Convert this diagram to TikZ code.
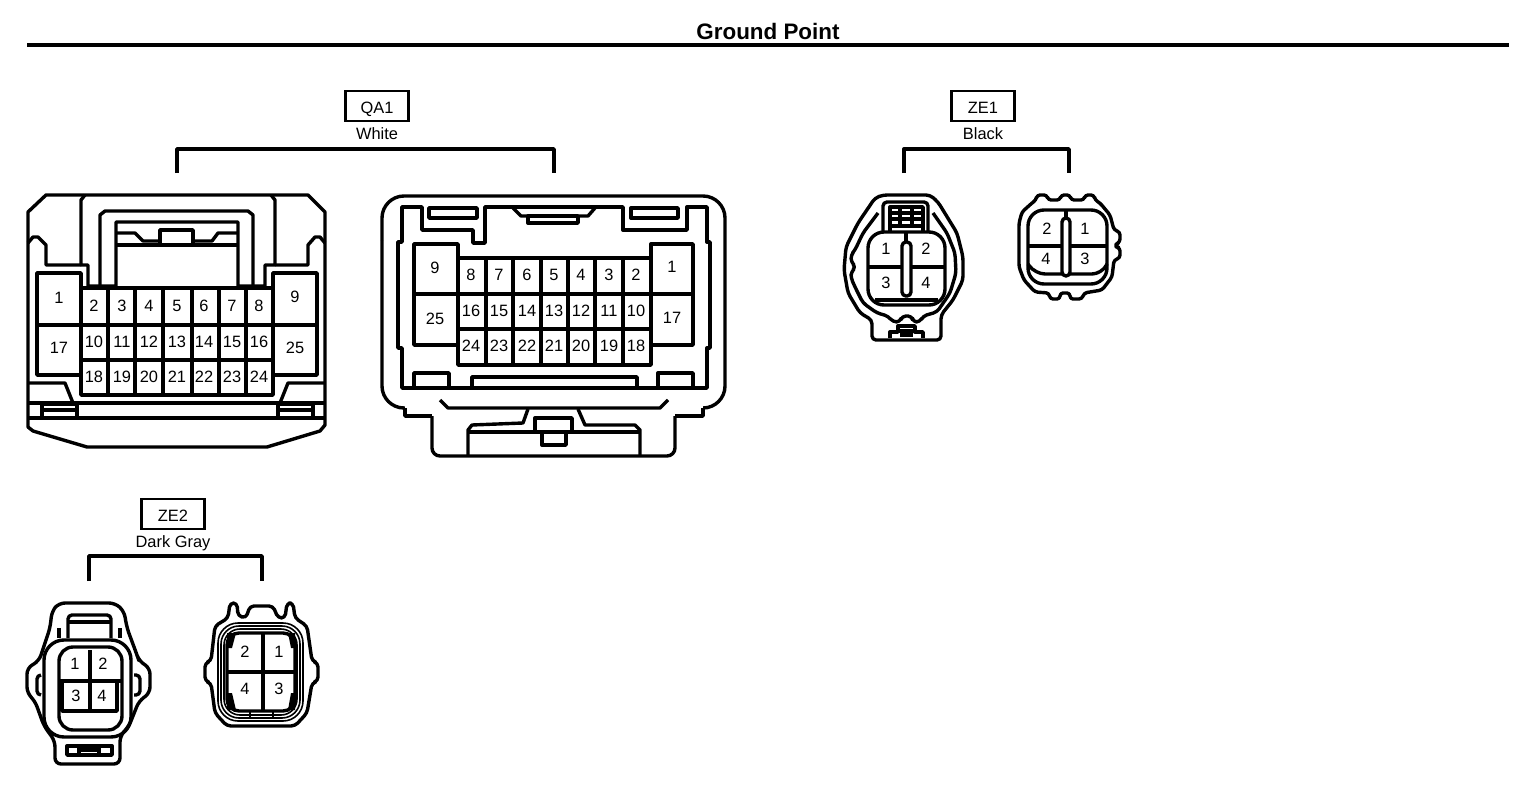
\documentclass[tikz,border=0pt]{standalone}
\usepackage{fontspec}
\setmainfont{Liberation Sans}
\tikzset{
  wire/.style={line width=1.7pt,line join=round},
  thinwire/.style={line width=0.8pt,line join=round},
  pin/.style={inner sep=0pt,font=\fontsize{8.2}{10}\selectfont},
  colour/.style={inner sep=0pt,font=\fontsize{8.2}{10}\selectfont},
  tag/.style={draw,line width=1.3pt,minimum width=31.5pt,minimum height=15pt,inner sep=0pt,text height=7.5pt,text depth=0pt,font=\fontsize{8.2}{10}\selectfont}
}
\begin{document}
\begin{tikzpicture}[x=0.5pt,y=-0.5pt]
\useasboundingbox (0,0) rectangle (1536,792);
% title
\node[inner sep=0pt,font=\bfseries\fontsize{11.2}{13}\selectfont] (title) at (768,31) {Ground Point};
\coordinate (ruleL) at (27,45);
\coordinate (ruleR) at (1509,45);
\draw[line width=2pt] (ruleL) -- (ruleR);
% tags and brackets
\node[tag] (qa1) at (377,106) {QA1};
\node[colour] (qa1col) at (377,134) {White};
\coordinate (qa1mid) at (377,149);
\coordinate (qa1L) at (177,173);
\coordinate (qa1R) at (554,173);
\draw[wire] (qa1L) |- (qa1mid) -| (qa1R);
\node[tag] (ze1) at (983,106) {ZE1};
\node[colour] (ze1col) at (983,134) {Black};
\coordinate (ze1mid) at (983,149);
\coordinate (ze1L) at (904,173);
\coordinate (ze1R) at (1069,173);
\draw[wire] (ze1L) |- (ze1mid) -| (ze1R);
\node[tag] (ze2) at (173,514) {ZE2};
\node[colour] (ze2col) at (173,543) {Dark Gray};
\coordinate (ze2mid) at (173,556);
\coordinate (ze2L) at (89,581);
\coordinate (ze2R) at (262,581);
\draw[wire] (ze2L) |- (ze2mid) -| (ze2R);
% QA1 left connector
\draw[wire] (46,195) -- (28,212) -- (28,427) -- (33,431) -- (87,447) -- (267,447) -- (320,431) -- (325,425) -- (325,212) -- (308,195) -- cycle;
\draw[wire] (28,418) -- (325,418);
\draw[wire] (28,403) -- (325,403);
\draw[wire] (42,404) rectangle (77,418);
\draw[wire] (278,404) rectangle (313,418);
\draw[wire] (42,410) -- (77,410);
\draw[wire] (278,410) -- (313,410);
\draw[wire] (28,383) -- (65,383) -- (73,403);
\draw[wire] (325,383) -- (288,383) -- (280,403);
\draw[wire] (28,243) -- (33,237) -- (38,237) -- (46,245) -- (46,265) -- (81,265);
\draw[wire] (325,243) -- (320,237) -- (315,237) -- (308,245) -- (308,265) -- (275,265);
\draw[wire] (85,195) -- (81,200) -- (81,265) -- (88,265) -- (88,286) -- (116,286) -- (116,222) -- (238,222) -- (238,286) -- (265,286) -- (265,265) -- (275,265) -- (275,200) -- (271,195);
\draw[wire] (100,286) -- (100,215) -- (105,211) -- (248,211) -- (253,215) -- (253,286);
\draw[wire] (116,233) -- (135,233) -- (143,241) -- (160,241);
\draw[wire] (193,241) -- (212,241) -- (218,233) -- (238,233);
\draw[wire] (116,245) -- (238,245);
\draw[wire,fill=white] (160,230) rectangle (193,245);
\draw[wire] (81,288) rectangle (273,395);
\draw[wire] (37,273) rectangle (81,375);
\draw[wire] (273,273) rectangle (317,375);
\draw[wire] (37,325) -- (317,325);
\draw[wire] (81,360) -- (273,360);
\foreach \xx in {108,135,163,192,219,246}
{
	\draw[wire] (\xx,288) -- (\xx,395);
}
\node[pin] (qlp1) at (59,298) {1};
\node[pin] (qlp17) at (59,348) {17};
\node[pin] (qlp9) at (295,297) {9};
\node[pin] (qlp25) at (295,348) {25};
\foreach \xx [count=\i] in {94,122,149,177,204,232,259}
{
	\pgfmathtruncatemacro{\pa}{\i+1}
	\pgfmathtruncatemacro{\pb}{\i+9}
	\pgfmathtruncatemacro{\pc}{\i+17}
	\node[pin] (qlp\pa) at (\xx,306) {\pa};
	\node[pin] (qlp\pb) at (\xx,342) {\pb};
	\node[pin] (qlp\pc) at (\xx,377) {\pc};
}
% QA1 right connector
\draw[wire,rounded corners=11pt] (382,240) -- (382,196) -- (725,196) -- (725,408) -- (703,408);
\draw[wire,rounded corners=11pt] (703,408) -- (382,408) -- (382,240);
\fill[white] (405,403) rectangle (703,414);
\draw[wire] (405,408) -- (405,416) -- (432,416);
\draw[wire] (703,408) -- (703,416) -- (675,416);
\draw[wire,rounded corners=4pt] (432,416) -- (432,456) -- (675,456) -- (675,416);
\draw[wire] (402,388) -- (402,348) -- (398,348) -- (398,242) -- (402,242) -- (402,207) -- (422,207) -- (422,230) -- (473,230) -- (473,243) -- (485,243) -- (485,207) -- (623,207) -- (623,230) -- (687,230) -- (687,207) -- (707,207) -- (707,242) -- (710,242) -- (710,348) -- (707,348) -- (707,388) -- cycle;
\draw[wire] (429,208) rectangle (477,218);
\draw[wire] (631,208) rectangle (678,218);
\draw[wire] (513,208) -- (521,216) -- (588,216) -- (595,208);
\draw[wire] (528,216) rectangle (578,223);
\draw[wire] (414,388) -- (414,373) -- (449,373) -- (449,388);
\draw[wire] (472,388) -- (472,377) -- (637,377) -- (637,388);
\draw[wire] (658,388) -- (658,373) -- (693,373) -- (693,388);
\draw[wire] (440,400) -- (448,408) -- (660,408) -- (668,400);
\draw[wire] (528,409) -- (523,423) -- (472,425) -- (468,430) -- (468,456);
\draw[wire] (578,409) -- (585,425) -- (635,425) -- (640,430) -- (640,456);
\draw[wire] (468,432) -- (640,432);
\draw[wire] (535,418) rectangle (572,432);
\draw[wire] (542,432) rectangle (566,445);
\draw[wire] (458,258) rectangle (651,365);
\draw[wire] (414,244) rectangle (458,345);
\draw[wire] (651,244) rectangle (693,345);
\draw[wire] (414,294) -- (693,294);
\draw[wire] (458,329) -- (651,329);
\foreach \xx in {486,513,541,568,595,623}
{
	\draw[wire] (\xx,258) -- (\xx,365);
}
\node[pin] (qrp9) at (435,268) {9};
\node[pin] (qrp25) at (435,319) {25};
\node[pin] (qrp1) at (672,267) {1};
\node[pin] (qrp17) at (672,318) {17};
\foreach \xx [count=\i] in {636,609,581,554,527,499,471}
{
	\pgfmathtruncatemacro{\pa}{\i+1}
	\pgfmathtruncatemacro{\pb}{\i+9}
	\pgfmathtruncatemacro{\pc}{\i+17}
	\node[pin] (qrp\pa) at (\xx,275) {\pa};
	\node[pin] (qrp\pb) at (\xx,311) {\pb};
	\node[pin] (qrp\pc) at (\xx,346) {\pc};
}
% ZE1 left connector
\draw[wire,rounded corners=2pt] (883,195) -- (930,195) -- (938,202) -- (957,233) -- (963,257) -- (963,280) -- (953,300) -- (941,315) -- (941,322) -- (941,340) -- (872,340) -- (872,320) -- (860,313) -- (848,293) -- (844,270) -- (846,247) -- (858,223) -- (875,198) -- cycle;
\draw[wire,rounded corners=2pt] (878,213) -- (863,233) -- (855,250) -- (851,255) -- (851,262) -- (856,267) -- (851,272) -- (851,278) -- (855,287) -- (863,303) -- (877,313) -- (888,316) -- (893,322) -- (900,322) -- (902,316) -- (912,316) -- (913,322) -- (920,322) -- (923,316) -- (937,312) -- (950,293) -- (956,273) -- (955,253) -- (947,233) -- (933,213);
\draw[wire,rounded corners=2pt] (883,232) -- (883,202) -- (928,202) -- (928,232);
\draw[wire] (890,207) rectangle (923,226);
\draw[wire] (890,213) -- (923,213);
\draw[wire] (890,219) -- (923,219);
\draw[wire] (900,207) -- (900,226);
\draw[wire] (912,207) -- (912,226);
\draw[wire] (890,226) -- (890,232);
\draw[wire] (923,226) -- (923,232);
\draw[wire,rounded corners=8pt,fill=white] (868,232) rectangle (945,305);
\draw[wire] (875,300) -- (938,300);
\draw[wire] (868,267) -- (945,267);
\draw[wire] (906,232) -- (906,242);
\draw[wire,fill=white,rounded corners=2pt] (902,242) rectangle (911,296);
\draw[wire] (890,338) -- (890,332) -- (898,332) -- (898,326) -- (915,326) -- (915,332) -- (923,332) -- (923,338);
\draw[wire] (898,331) -- (915,331);
\draw[wire] (900,335) -- (913,335);
\node[pin] (zlp1) at (886,249) {1};
\node[pin] (zlp2) at (926,249) {2};
\node[pin] (zlp3) at (886,283) {3};
\node[pin] (zlp4) at (926,283) {4};
% ZE1 right connector
\draw[wire,rounded corners=1.5pt] (1036,200) -- (1037,195) -- (1047,195) -- (1048,200) -- (1060,200) -- (1061,195) -- (1070,195) -- (1071,200) -- (1084,200) -- (1085,195) -- (1094,195) -- (1095,200) -- (1100,203) -- (1110,215) -- (1114,230) -- (1120,232) -- (1120,242) -- (1116,244) -- (1116,247) -- (1120,248) -- (1120,258) -- (1114,260) -- (1112,277) -- (1102,290) -- (1084,293) -- (1082,299) -- (1070,299) -- (1070,293) -- (1060,293) -- (1060,299) -- (1050,299) -- (1049,293) -- (1035,292) -- (1024,280) -- (1019,267) -- (1019,223) -- (1022,212) -- (1032,203) -- cycle;
\draw[wire,rounded corners=8pt] (1028,210) rectangle (1107,284);
\draw[wire,rounded corners=5pt] (1028,264) -- (1035,274) -- (1102,274) -- (1107,264);
\draw[wire] (1028,246) -- (1107,246);
\draw[wire] (1066,210) -- (1066,218);
\draw[wire,fill=white,rounded corners=2pt] (1062,218) rectangle (1070,276);
\node[pin] (zrp2) at (1047,229) {2};
\node[pin] (zrp1) at (1085,229) {1};
\node[pin] (zrp4) at (1046,259) {4};
\node[pin] (zrp3) at (1085,259) {3};
% ZE2 left connector
\draw[wire,rounded corners=3pt] (59,603) -- (115,603) -- (124,611) -- (127,628) -- (137,655) -- (139,661) -- (150,668) -- (150,693) -- (139,701) -- (129,726) -- (120,736) -- (120,764) -- (55,764) -- (55,741) -- (44,726) -- (35,701) -- (27,693) -- (27,668) -- (39,661) -- (50,628) -- (52,611) -- cycle;
\draw[wire,rounded corners=10pt] (44,640) rectangle (131,737);
\draw[wire,rounded corners=2pt] (41,675) -- (37,675) -- (37,695) -- (41,695);
\draw[wire,rounded corners=2pt] (134,675) -- (140,675) -- (140,695) -- (134,695);
\draw[wire,rounded corners=2pt] (68,638) -- (68,615) -- (111,615) -- (111,638);
\draw[wire] (68,622) -- (111,622);
\draw[wire] (59,638) -- (59,628);
\draw[wire] (120,638) -- (120,628);
\draw[wire,rounded corners=7pt] (59,647) rectangle (122,730);
\draw[wire] (62,681) rectangle (117,711);
\draw[wire] (59,681) -- (122,681);
\draw[wire] (90,650) -- (90,711);
\draw[wire] (67,746) rectangle (112,755);
\draw[wire] (79,746) -- (79,755);
\draw[wire] (99,746) -- (99,755);
\draw[wire] (79,750) -- (99,750);
\node[pin] (zgp1) at (75,664) {1};
\node[pin] (zgp2) at (103,664) {2};
\node[pin] (zgp3) at (76,696) {3};
\node[pin] (zgp4) at (102,696) {4};
% ZE2 right connector
\draw[wire,rounded corners=2pt] (230,603) -- (237,603) -- (238,616) -- (246,618) -- (250,606) -- (273,606) -- (278,618) -- (285,618) -- (287,603) -- (293,603) -- (295,618) -- (307,626) -- (312,661) -- (318,663) -- (318,681) -- (312,683) -- (307,713) -- (295,726) -- (227,726) -- (215,713) -- (211,683) -- (205,681) -- (205,663) -- (211,661) -- (215,626) -- (228,618) -- cycle;
\draw[thinwire,rounded corners=10pt] (218,623) rectangle (303,721);
\draw[thinwire,rounded corners=9pt] (221,626) rectangle (300,718);
\draw[thinwire,rounded corners=8pt] (224,629) rectangle (297,715);
\draw[wire,rounded corners=6pt] (227,633) rectangle (295,711);
\fill (227,633) -- (227,648) -- (232,648) -- (236,633) -- cycle;
\fill (295,633) -- (295,648) -- (291,648) -- (288,633) -- cycle;
\fill (227,710) -- (227,693) -- (232,693) -- (236,710) -- cycle;
\fill (295,710) -- (295,693) -- (291,693) -- (288,710) -- cycle;
\draw[wire] (227,672) -- (295,672);
\draw[wire] (263,633) -- (263,711);
\draw[thinwire] (250,711) -- (250,718);
\draw[thinwire] (273,711) -- (273,718);
\node[pin] (zhp2) at (245,652) {2};
\node[pin] (zhp1) at (279,652) {1};
\node[pin] (zhp4) at (245,689) {4};
\node[pin] (zhp3) at (279,689) {3};
\end{tikzpicture}
\end{document}
